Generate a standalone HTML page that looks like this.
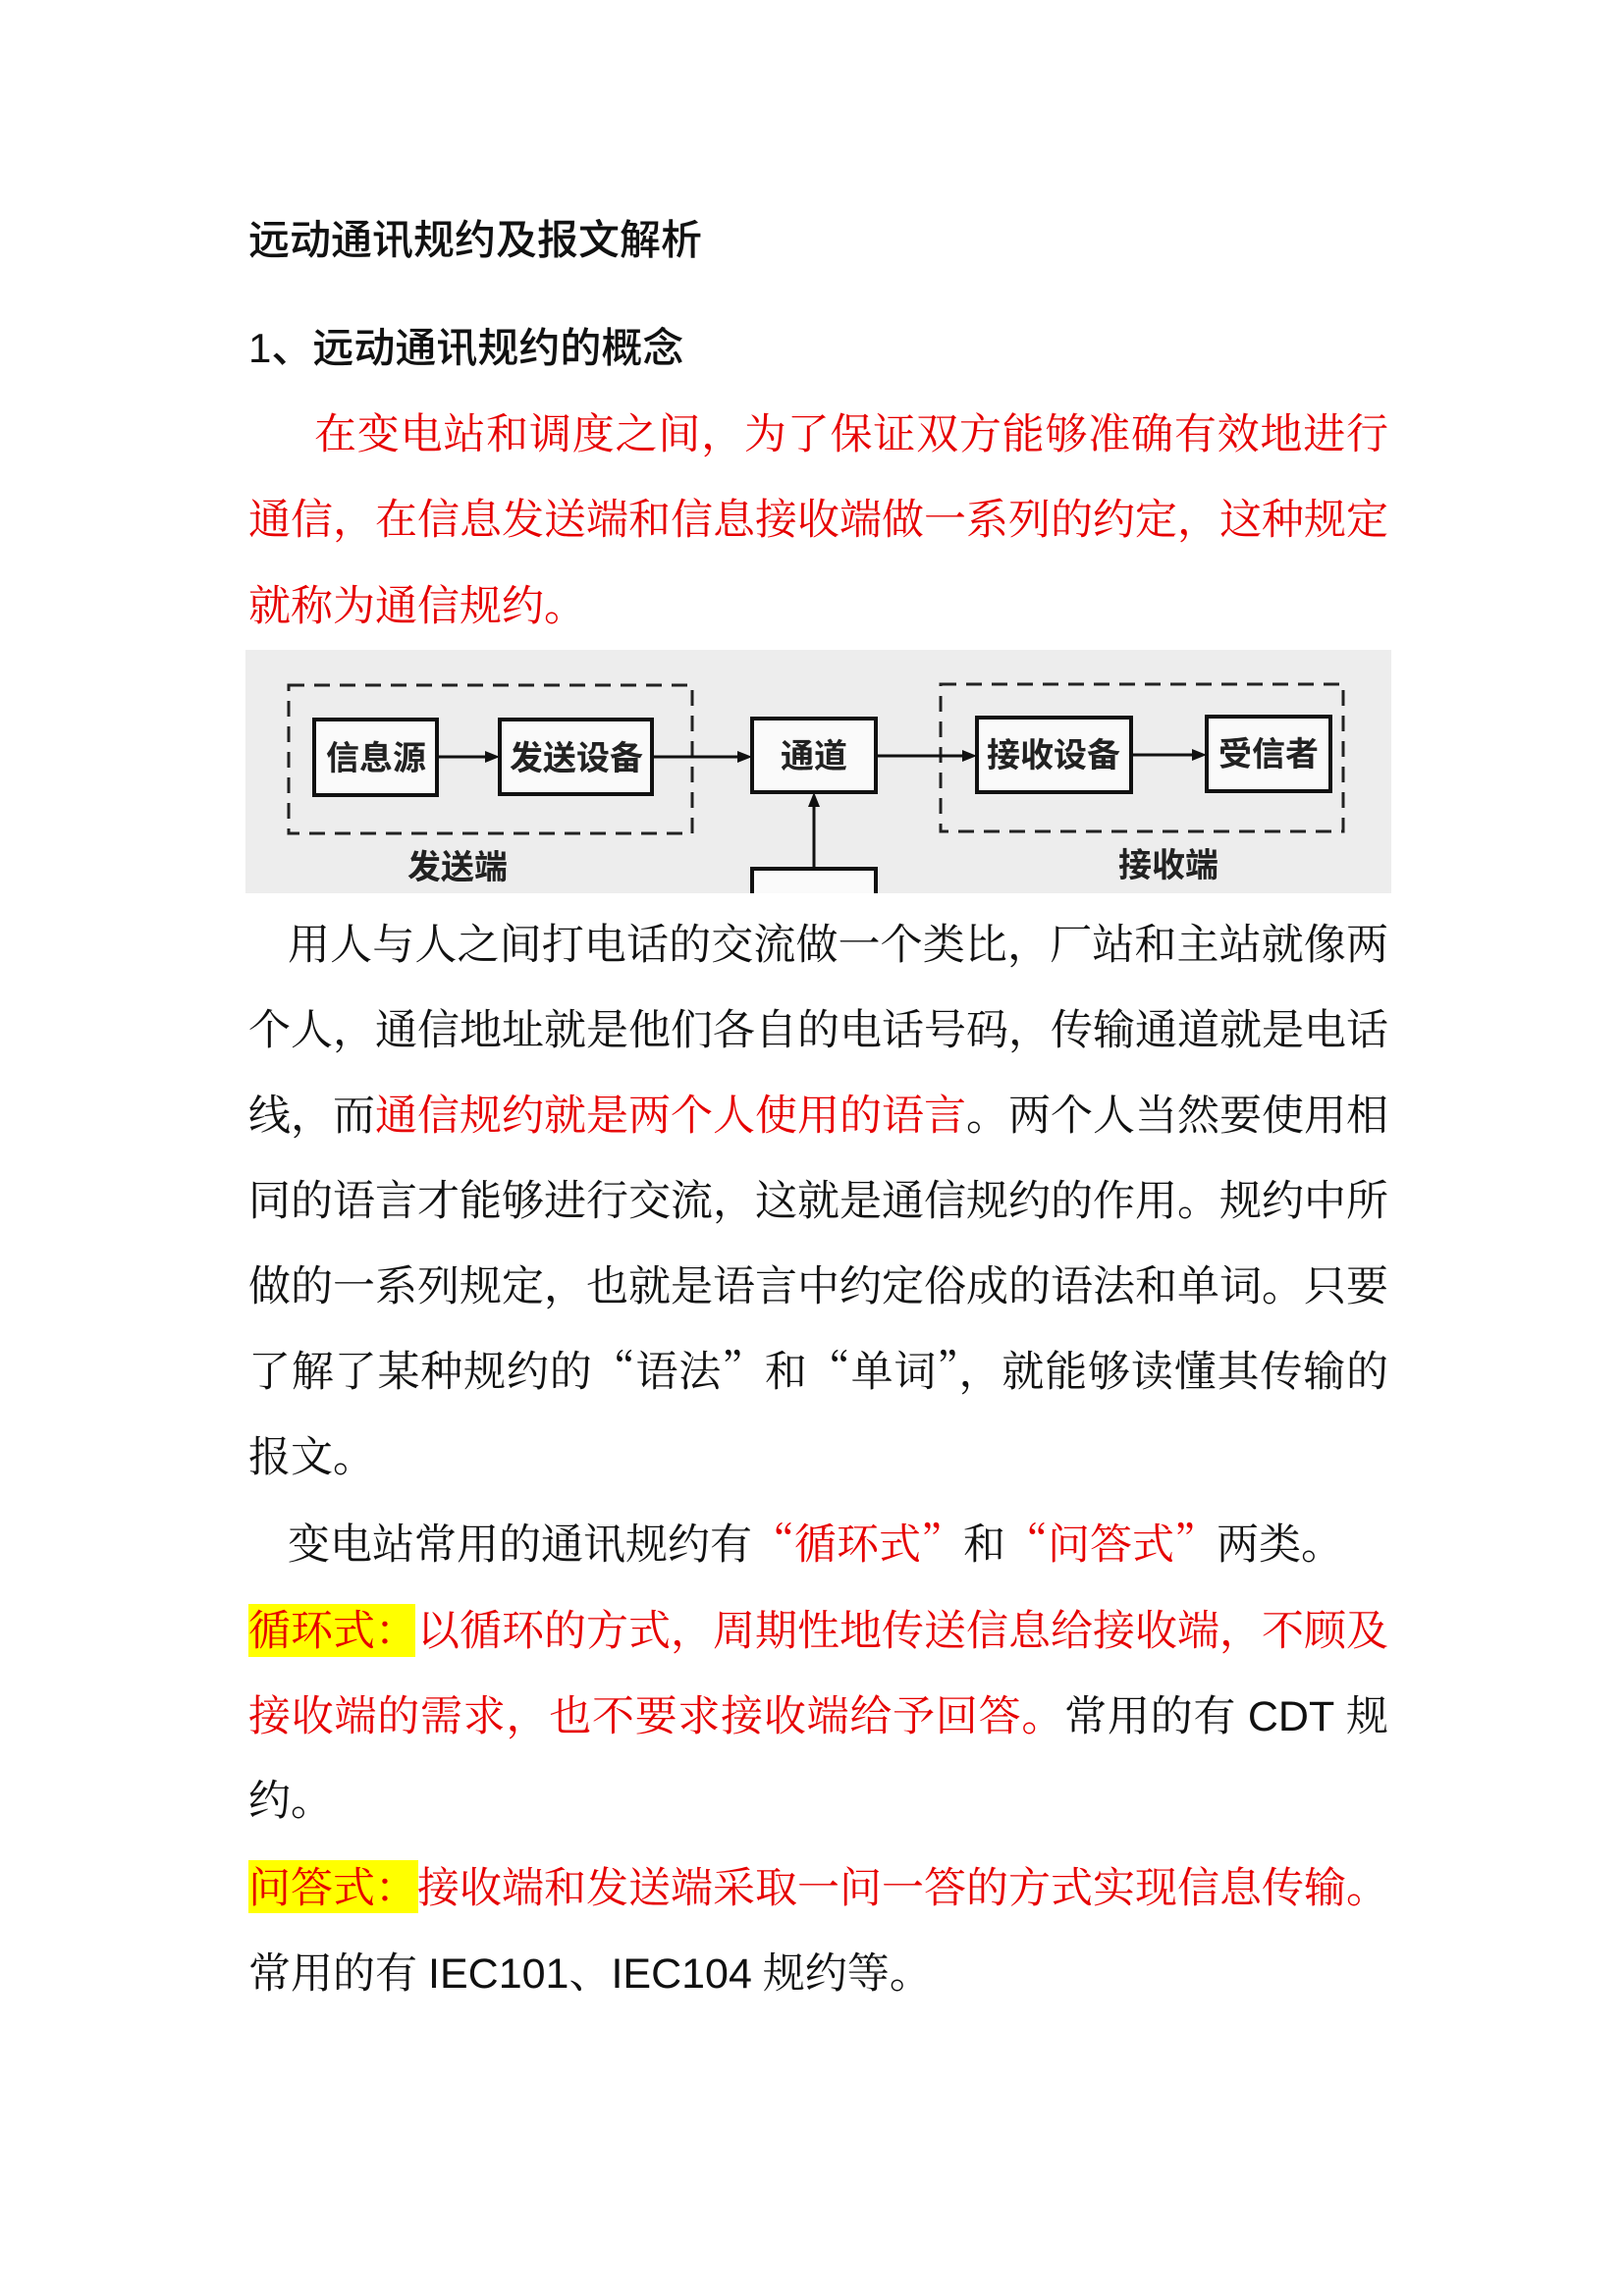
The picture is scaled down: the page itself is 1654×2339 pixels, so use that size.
<!DOCTYPE html>
<html><head><meta charset="utf-8"><style>
html,body{margin:0;padding:0;background:#fff;}
body{width:1654px;height:2339px;position:relative;overflow:hidden;}
.t{position:absolute;left:253px;white-space:nowrap;font-family:"Liberation Sans","Noto Sans CJK SC",sans-serif;color:#111;font-size:42px;line-height:60px;font-weight:500;}
.l{position:absolute;left:253px;width:1161px;height:87px;line-height:87px;font-size:43px;white-space:nowrap;font-family:"Noto Serif CJK SC",serif;color:#111;}
.j{text-align:justify;text-align-last:justify;}
.r{color:#e60000;}
.s{font-family:"Liberation Sans","Noto Sans CJK SC",sans-serif;}
</style></head><body>
<div class="t" style="top:215px;">远动通讯规约及报文解析</div>
<div class="t" style="top:325px;">1、远动通讯规约的概念</div>

<div class="l r j" style="top:396px;padding-left:67px;width:1094px;">在变电站和调度之间，为了保证双方能够准确有效地进行</div>
<div class="l r j" style="top:483px;">通信，在信息发送端和信息接收端做一系列的约定，这种规定</div>
<div class="l r" style="top:571px;">就称为通信规约。</div>

<svg style="position:absolute;left:250px;top:662px;" width="1167" height="248" viewBox="250 662 1167 248">
<rect x="250" y="662" width="1167" height="248" fill="#ededed"/>
<g fill="none" stroke="#222" stroke-width="3" stroke-dasharray="16,10">
<rect x="294" y="698" width="411" height="151"/>
<rect x="958" y="697" width="410" height="150"/>
</g>
<g fill="#fafafa" stroke="#111" stroke-width="4">
<rect x="320" y="733" width="125" height="77"/>
<rect x="509" y="733" width="155" height="76"/>
<rect x="766" y="732" width="126" height="75"/>
<rect x="995" y="731" width="157" height="76"/>
<rect x="1229" y="730" width="126" height="76"/>
<rect x="766" y="885" width="126" height="40"/>
</g>
<g stroke="#111" stroke-width="3">
<line x1="445" y1="771" x2="498" y2="771"/>
<line x1="664" y1="771" x2="755" y2="771"/>
<line x1="892" y1="770" x2="984" y2="770"/>
<line x1="1152" y1="769" x2="1218" y2="769"/>
<line x1="829" y1="885" x2="829" y2="818"/>
</g>
<g fill="#111">
<polygon points="509,771 494,765 494,777"/>
<polygon points="766,771 751,765 751,777"/>
<polygon points="995,770 980,764 980,776"/>
<polygon points="1229,769 1214,763 1214,775"/>
<polygon points="829,807 823,822 835,822"/>
</g>
<g font-family="Noto Sans CJK SC, sans-serif" font-size="34" font-weight="bold" fill="#222" text-anchor="middle">
<text x="383" y="784">信息源</text>
<text x="587" y="784">发送设备</text>
<text x="829" y="782">通道</text>
<text x="1073" y="781">接收设备</text>
<text x="1292" y="780">受信者</text>
<text x="466" y="895">发送端</text>
<text x="1190" y="893">接收端</text>
</g>
</svg>

<div class="l j" style="top:916px;padding-left:40px;width:1121px;">用人与人之间打电话的交流做一个类比，厂站和主站就像两</div>
<div class="l j" style="top:1003px;">个人，通信地址就是他们各自的电话号码，传输通道就是电话</div>
<div class="l j" style="top:1090px;">线，而<span class="r">通信规约就是两个人使用的语言</span>。两个人当然要使用相</div>
<div class="l j" style="top:1177px;">同的语言才能够进行交流，这就是通信规约的作用。规约中所</div>
<div class="l j" style="top:1264px;">做的一系列规定，也就是语言中约定俗成的语法和单词。只要</div>
<div class="l j" style="top:1351px;">了解了某种规约的“语法”和“单词”，就能够读懂其传输的</div>
<div class="l" style="top:1438px;">报文。</div>
<div class="l" style="top:1527px;padding-left:40px;">变电站常用的通讯规约有<span class="r">“循环式”</span>和<span class="r">“问答式”</span>两类。</div>
<div style="position:absolute;left:253px;top:1634px;width:170px;height:54px;background:#ffff00;"></div>
<div class="l r j" style="top:1615px;">循环式：以循环的方式，周期性地传送信息给接收端，不顾及</div>
<div class="l j" style="top:1702px;"><span class="r">接收端的需求，也不要求接收端给予回答。</span>常用的有 <span class="s">CDT</span> 规</div>
<div class="l" style="top:1788px;">约。</div>
<div style="position:absolute;left:253px;top:1895px;width:173px;height:54px;background:#ffff00;"></div>
<div class="l r" style="top:1877px;">问答式：接收端和发送端采取一问一答的方式实现信息传输。</div>
<div class="l" style="top:1964px;">常用的有 <span class="s">IEC101</span>、<span class="s">IEC104</span> 规约等。</div>
</body></html>
